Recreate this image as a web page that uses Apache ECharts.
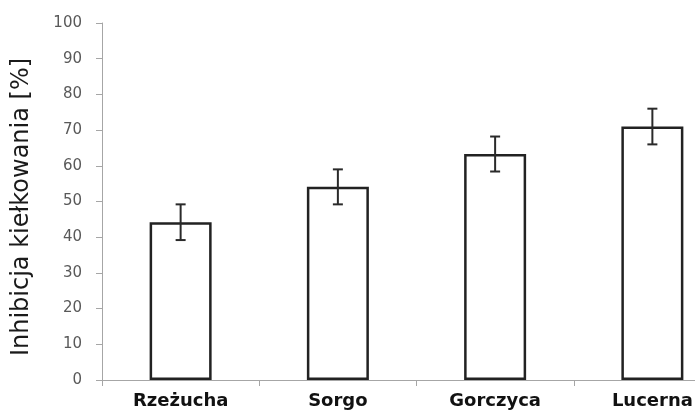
<!DOCTYPE html>
<html>
<head>
<meta charset="utf-8">
<script src="https://cdn.jsdelivr.net/npm/echarts@6/dist/echarts.min.js"></script>
<style>html,body{margin:0;padding:0;background:#fff;overflow:hidden;width:695px;height:415px}#c{width:731px;height:415px}</style>
</head>
<body>
<div id="c"></div>
<script>
var categories = ['Rzeżucha', 'Sorgo', 'Gorczyca', 'Lucerna'];
var values = [44.2, 54.1, 63.3, 71.0];
var errors = [5.0, 4.9, 4.9, 5.0];
var yTicks = { min: 0, max: 100, interval: 10 };
var yTitle = 'Inhibicja kiełkowania [%]';

var chart = echarts.init(document.getElementById('c'), null, { renderer: 'canvas', width: 731, height: 415 });
var errData = categories.map(function (c, i) { return [i, values[i] - errors[i], values[i] + errors[i]]; });

chart.setOption({
  animation: false,
  grid: { left: 102, right: 0, top: 23, bottom: 35 },
  xAxis: {
    type: 'category',
    data: categories,
    boundaryGap: true,
    axisLine: { lineStyle: { color: '#a6a6a6', width: 1 } },
    axisTick: { show: true, length: 6, lineStyle: { color: '#a6a6a6' } },
    axisLabel: { color: '#111', fontFamily: 'DejaVu Sans', fontWeight: 'bold', fontSize: 18, margin: 12 }
  },
  yAxis: {
    type: 'value',
    min: yTicks.min, max: yTicks.max, interval: yTicks.interval,
    name: yTitle,
    nameLocation: 'middle',
    nameGap: 68,
    nameTextStyle: { color: '#1a1a1a', fontFamily: 'DejaVu Sans', fontSize: 24, padding: [0, 11, 0, 0] },
    axisLine: { show: true, lineStyle: { color: '#a6a6a6', width: 1 } },
    axisTick: { show: true, length: 6, lineStyle: { color: '#a6a6a6' } },
    splitLine: { show: false },
    axisLabel: { color: '#595959', fontFamily: 'DejaVu Sans', fontSize: 15, margin: 20 }
  },
  series: [
    {
      type: 'bar',
      data: values,
      barWidth: 62,
      itemStyle: { color: '#ffffff', borderColor: '#222222', borderWidth: 2.5 }
    },
    {
      type: 'custom',
      data: errData,
      z: 10,
      renderItem: function (params, api) {
        var x = api.value(0);
        var lo = api.coord([x, api.value(1)]);
        var hi = api.coord([x, api.value(2)]);
        var hw = 5;
        var st = { stroke: '#2a2a2a', lineWidth: 2 };
        return {
          type: 'group',
          children: [
            { type: 'line', shape: { x1: lo[0], y1: lo[1], x2: hi[0], y2: hi[1] }, style: st },
            { type: 'line', shape: { x1: lo[0] - hw, y1: lo[1], x2: lo[0] + hw, y2: lo[1] }, style: st },
            { type: 'line', shape: { x1: hi[0] - hw, y1: hi[1], x2: hi[0] + hw, y2: hi[1] }, style: st }
          ]
        };
      }
    }
  ]
});
</script>
</body>
</html>
